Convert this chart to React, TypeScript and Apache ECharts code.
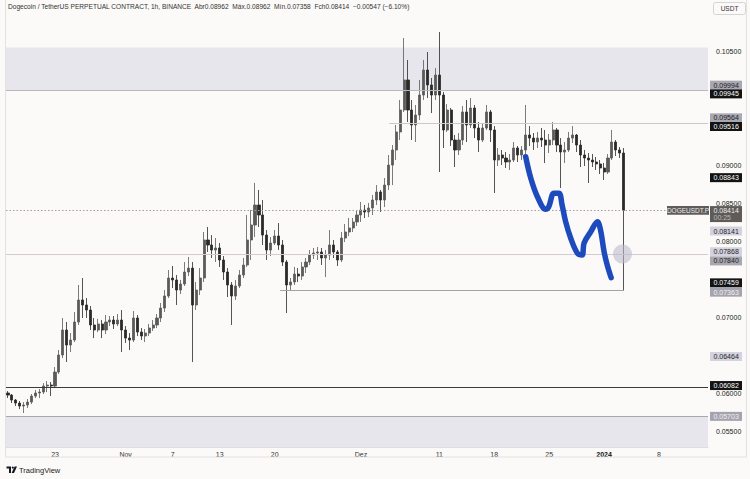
import React, { useEffect, useRef } from "react";
import * as echarts from "echarts";

// ---- time axis: 12h candles from 2023-10-17 00:00 UTC ----
const START_UTC = Date.UTC(2023, 9, 17, 0);
const STEP_HOURS = 12;
const CATEGORY_COUNT = 179;

// x tick labels (date -> label)
const xTickDates = ["2023-10-23", "2023-11-01", "2023-11-07", "2023-11-13", "2023-11-20", "2023-12-01", "2023-12-11", "2023-12-18", "2023-12-25", "2024-01-01", "2024-01-08"];
const xTickTexts = ["23", "Nov", "7", "13", "20", "Dez", "11", "18", "25", "2024", "8"];

// y tick labels that stay visible (others sit under price tags)
const yTickLabels = [0.105, 0.09, 0.085, 0.08, 0.07, 0.06, 0.055];

// ---- DOGE/USDT.P candles (12h aggregation) ----
const opens = [
  0.06010, 0.05983, 0.05918, 0.05878, 0.05839, 0.05852, 0.05891, 0.05970, 0.06010, 0.06023,
  0.06102, 0.06115, 0.06102, 0.06286, 0.06510, 0.06839, 0.06641, 0.06707, 0.06944, 0.07234,
  0.07168, 0.07102, 0.06905, 0.06839, 0.06918, 0.06839, 0.06944, 0.06970, 0.06918, 0.06970,
  0.06839, 0.06733, 0.06707, 0.06997, 0.06812, 0.06760, 0.06799, 0.06865, 0.06905, 0.06997,
  0.07128, 0.07286, 0.07523, 0.07497, 0.07365, 0.07444, 0.07602, 0.07654, 0.07168, 0.07365,
  0.07523, 0.08023, 0.07957, 0.07891, 0.07918, 0.07760, 0.07602, 0.07431, 0.07286, 0.07418,
  0.07562, 0.07694, 0.08023, 0.08220, 0.08483, 0.08352, 0.08088, 0.07891, 0.07983, 0.08075,
  0.07957, 0.07733, 0.07431, 0.07470, 0.07575, 0.07549, 0.07668, 0.07733, 0.07825, 0.07852,
  0.07865, 0.07786, 0.07825, 0.07957, 0.07865, 0.07760, 0.08049, 0.08128, 0.08181, 0.08260,
  0.08352, 0.08417, 0.08391, 0.08444, 0.08549, 0.08654, 0.08549, 0.08746, 0.09009, 0.09207,
  0.09444, 0.09733, 0.10128, 0.09733, 0.09536, 0.09667, 0.09930, 0.10259, 0.10062, 0.09930,
  0.10193, 0.09930, 0.09470, 0.09733, 0.09338, 0.09207, 0.09338, 0.09707, 0.09536, 0.09759,
  0.09496, 0.09338, 0.09496, 0.09707, 0.09470, 0.09075, 0.09141, 0.09101, 0.09049, 0.09075,
  0.09233, 0.09141, 0.09207, 0.09404, 0.09364, 0.09312, 0.09364, 0.09338, 0.09272, 0.09338,
  0.09470, 0.09272, 0.09180, 0.09207, 0.09364, 0.09404, 0.09272, 0.09141, 0.09101, 0.09075,
  0.09049, 0.09023, 0.08970, 0.08917, 0.09101, 0.09312, 0.09207, 0.09167,
];
const closes = [
  0.05983, 0.05918, 0.05878, 0.05839, 0.05852, 0.05891, 0.05970, 0.06010, 0.06023, 0.06102,
  0.06115, 0.06102, 0.06286, 0.06510, 0.06839, 0.06641, 0.06707, 0.06944, 0.07234, 0.07168,
  0.07102, 0.06905, 0.06839, 0.06918, 0.06839, 0.06944, 0.06970, 0.06918, 0.06970, 0.06839,
  0.06733, 0.06707, 0.06997, 0.06812, 0.06760, 0.06799, 0.06865, 0.06905, 0.06997, 0.07128,
  0.07286, 0.07523, 0.07497, 0.07365, 0.07444, 0.07602, 0.07654, 0.07168, 0.07365, 0.07523,
  0.08023, 0.07957, 0.07891, 0.07918, 0.07760, 0.07602, 0.07431, 0.07286, 0.07418, 0.07562,
  0.07694, 0.08023, 0.08220, 0.08483, 0.08352, 0.08088, 0.07891, 0.07983, 0.08075, 0.07957,
  0.07733, 0.07431, 0.07470, 0.07575, 0.07549, 0.07668, 0.07733, 0.07825, 0.07852, 0.07865,
  0.07786, 0.07825, 0.07957, 0.07865, 0.07760, 0.08049, 0.08128, 0.08181, 0.08260, 0.08352,
  0.08417, 0.08391, 0.08444, 0.08549, 0.08654, 0.08549, 0.08746, 0.09009, 0.09207, 0.09444,
  0.09733, 0.10128, 0.09733, 0.09536, 0.09667, 0.09930, 0.10259, 0.10062, 0.09930, 0.10193,
  0.09930, 0.09470, 0.09733, 0.09338, 0.09207, 0.09338, 0.09707, 0.09536, 0.09759, 0.09496,
  0.09338, 0.09496, 0.09707, 0.09470, 0.09075, 0.09141, 0.09101, 0.09049, 0.09075, 0.09233,
  0.09141, 0.09207, 0.09404, 0.09364, 0.09312, 0.09364, 0.09338, 0.09272, 0.09338, 0.09470,
  0.09272, 0.09180, 0.09207, 0.09364, 0.09404, 0.09272, 0.09141, 0.09101, 0.09075, 0.09049,
  0.09023, 0.08970, 0.08917, 0.09101, 0.09312, 0.09207, 0.09167, 0.08414,
];
const highs = [
  0.06036, 0.05997, 0.05931, 0.05905, 0.05891, 0.05931, 0.05997, 0.06049, 0.06063, 0.06141,
  0.06168, 0.06155, 0.06352, 0.06576, 0.06997, 0.06944, 0.06799, 0.07076, 0.07431, 0.07523,
  0.07260, 0.07155, 0.06997, 0.06984, 0.06970, 0.07036, 0.07023, 0.07023, 0.07049, 0.07102,
  0.06891, 0.06799, 0.07089, 0.07036, 0.06865, 0.06852, 0.06918, 0.06970, 0.07049, 0.07194,
  0.07365, 0.07628, 0.07681, 0.07562, 0.07497, 0.07733, 0.07799, 0.07733, 0.07470, 0.07654,
  0.08128, 0.08194, 0.08088, 0.08049, 0.07983, 0.07812, 0.07654, 0.07470, 0.07497, 0.07628,
  0.07786, 0.08352, 0.08417, 0.08773, 0.08681, 0.08549, 0.08154, 0.08062, 0.08154, 0.08246,
  0.08023, 0.07760, 0.07523, 0.07668, 0.07654, 0.07733, 0.07786, 0.07891, 0.07918, 0.07931,
  0.07918, 0.07891, 0.08154, 0.08023, 0.07891, 0.08128, 0.08233, 0.08312, 0.08312, 0.08417,
  0.08523, 0.08483, 0.08510, 0.08615, 0.08746, 0.08681, 0.08838, 0.09141, 0.09272, 0.09536,
  0.09865, 0.10680, 0.10391, 0.09865, 0.09799, 0.10128, 0.10391, 0.10496, 0.10154, 0.10285,
  0.10759, 0.09970, 0.09812, 0.09759, 0.09404, 0.09430, 0.09786, 0.09865, 0.09891, 0.09799,
  0.09575, 0.09549, 0.09799, 0.09733, 0.09522, 0.09233, 0.09207, 0.09180, 0.09154, 0.09312,
  0.09259, 0.09259, 0.09799, 0.09522, 0.09430, 0.09444, 0.09496, 0.09470, 0.09417, 0.09575,
  0.09496, 0.09364, 0.09312, 0.09444, 0.09522, 0.09417, 0.09338, 0.09207, 0.09167, 0.09154,
  0.09115, 0.09075, 0.09036, 0.09154, 0.09470, 0.09338, 0.09246, 0.09233,
];
const lows = [
  0.05944, 0.05878, 0.05839, 0.05799, 0.05747, 0.05812, 0.05865, 0.05944, 0.05944, 0.05997,
  0.06023, 0.05970, 0.06076, 0.06260, 0.06470, 0.06418, 0.06549, 0.06681, 0.06905, 0.06997,
  0.06997, 0.06839, 0.06733, 0.06812, 0.06733, 0.06786, 0.06891, 0.06852, 0.06891, 0.06549,
  0.06668, 0.06576, 0.06681, 0.06760, 0.06707, 0.06681, 0.06760, 0.06826, 0.06865, 0.06944,
  0.07076, 0.07260, 0.07391, 0.07168, 0.07312, 0.07418, 0.07549, 0.06418, 0.07102, 0.07299,
  0.07470, 0.07865, 0.07786, 0.07733, 0.07668, 0.07497, 0.07273, 0.06905, 0.07234, 0.07391,
  0.07523, 0.07668, 0.07760, 0.08062, 0.08194, 0.07957, 0.07760, 0.07812, 0.07957, 0.07891,
  0.07681, 0.07062, 0.07365, 0.07431, 0.07470, 0.07497, 0.07589, 0.07694, 0.07773, 0.07760,
  0.07694, 0.07536, 0.07760, 0.07786, 0.07681, 0.07733, 0.07996, 0.08075, 0.08128, 0.08207,
  0.08260, 0.08312, 0.08325, 0.08352, 0.08483, 0.08391, 0.08457, 0.08681, 0.08746, 0.09075,
  0.09338, 0.09707, 0.09575, 0.09338, 0.09312, 0.09601, 0.09865, 0.09891, 0.09693, 0.09865,
  0.08917, 0.09233, 0.09444, 0.09259, 0.08983, 0.09141, 0.09272, 0.09312, 0.09496, 0.09364,
  0.09180, 0.09312, 0.09470, 0.09312, 0.08641, 0.08996, 0.09009, 0.08970, 0.08944, 0.09049,
  0.09049, 0.09075, 0.09141, 0.09259, 0.09207, 0.09233, 0.09246, 0.09036, 0.09167, 0.09272,
  0.09180, 0.08707, 0.09036, 0.09180, 0.09299, 0.09180, 0.08983, 0.08996, 0.08773, 0.08983,
  0.08944, 0.08891, 0.08812, 0.08891, 0.09075, 0.09128, 0.09101, 0.07358,
];

// ---- hand-drawn blue stroke (x in candle-index units, y in price) ----
const drawingX = [132.0, 133.3, 135.0, 137.1, 137.9, 139.2, 140.5, 141.3, 142.2, 143.5, 145.2, 146.4, 146.9, 148.6, 150.3, 151.1, 152.0, 152.8, 153.8];
const drawingY = [0.09119, 0.08838, 0.08592, 0.08427, 0.08461, 0.08637, 0.08637, 0.08483, 0.08264, 0.08045, 0.07848, 0.07825, 0.07983, 0.08132, 0.08264, 0.08154, 0.07869, 0.07694, 0.07527];
const markerCircle = [156.7, 0.07839];

// ---- horizontal drawings ----
const upperZone = [0.10555, 0.09994];
const lowerZone = [0.05703, 0.053];
const resistanceLine = { from: 97.2, to: CATEGORY_COUNT - 0.5, value: 0.09564 };
const supportLine = { from: 69.4, to: 157, value: 0.07363 };
const midLine = 0.0784;
const baseLine = 0.06082;
const lastPrice = 0.08414;

// ---- right-hand price tags ----
const tagValues = [0.09994, 0.09945, 0.09564, 0.09516, 0.08843, 0.08141, 0.07868, 0.0784, 0.07459, 0.07363, 0.06464, 0.06082, 0.05703];
const tagKinds = ["gray", "black", "gray", "black", "black", "lilac", "lilac", "gray", "black", "grayLight", "lilac", "black", "grayLight"];

const headerText = "Dogecoin / TetherUS PERPETUAL CONTRACT, 1h, BINANCE  Abr0.08962  Máx.0.08962  Mín.0.07358  Fch0.08414  −0.00547 (−6.10%)";

const FONT = "'Liberation Sans', Arial, sans-serif";

function pad(n: number) {
  return n < 10 ? "0" + n : String(n);
}

function buildCategories() {
  const out: string[] = [];
  for (let i = 0; i < CATEGORY_COUNT; i++) {
    const d = new Date(START_UTC + i * STEP_HOURS * 3600 * 1000);
    out.push(`${d.getUTCFullYear()}-${pad(d.getUTCMonth() + 1)}-${pad(d.getUTCDate())} ${pad(d.getUTCHours())}`);
  }
  return out;
}

const tagStyles: Record<string, { fill: string; text: string }> = {
  gray: { fill: "#a9a8b2", text: "#1c1c1c" },
  black: { fill: "#131313", text: "#ffffff" },
  lilac: { fill: "#d3d2de", text: "#262626" },
  grayLight: { fill: "#a4a3ae", text: "#f2f2f2" },
};
const tagNudge = [-5, 0, -5, 0, 0, 0, 0, 7, 0, 2, -2, -2, 0];

export default function App() {
  const ref = useRef<HTMLDivElement>(null);

  useEffect(() => {
    if (!ref.current) return;
    const chart = echarts.init(ref.current, null, { renderer: "svg" });
    const categories = buildCategories();
    const tickMap: Record<string, string> = {};
    xTickDates.forEach((d, i) => (tickMap[d + " 00"] = xTickTexts[i]));

    const candleData = opens.map((o, i) => [o, closes[i], lows[i], highs[i]]);
    const drawing = drawingX.map((x, i) => [x, drawingY[i]]);

    const option: any = {
      animation: false,
      backgroundColor: "#fbfaf8",
      textStyle: { fontFamily: FONT },
      grid: { left: 6, right: 42, top: 0, bottom: 32, containLabel: false },
      xAxis: [
        {
          type: "category",
          data: categories,
          boundaryGap: true,
          axisLine: { show: true, lineStyle: { color: "#dedede" } },
          axisTick: { show: false },
          splitLine: { show: false },
          axisLabel: {
            interval: (_i: number, v: string) => tickMap[v] !== undefined,
            formatter: (v: string) => {
              const t = tickMap[v];
              if (t === undefined) return "";
              return t === "2024" ? "{b|2024}" : t;
            },
            fontSize: 7,
            color: "#333",
            margin: 4,
            fontFamily: FONT,
            rich: { b: { fontWeight: "bold", fontSize: 7, color: "#111", fontFamily: FONT } },
          },
        },
        { type: "value", min: -0.5, max: CATEGORY_COUNT - 0.5, show: false },
      ],
      yAxis: {
        type: "value",
        position: "right",
        min: 0.053,
        max: 0.1118,
        interval: 0.0005,
        axisLine: { show: false },
        axisTick: { show: false },
        splitLine: { show: false },
        axisLabel: {
          fontSize: 7,
          color: "#222",
          margin: 8,
          fontFamily: FONT,
          formatter: (v: number) => {
            const hit = yTickLabels.find((t) => Math.abs(t - v) < 1e-7);
            return hit !== undefined ? hit.toFixed(5) : "";
          },
        },
      },
      series: [
        {
          type: "line",
          xAxisIndex: 1,
          yAxisIndex: 0,
          data: [],
          z: 1,
          silent: true,
          markArea: {
            silent: true,
            precision: 6,
            itemStyle: { color: "#e7e6ed" },
            data: [
              [{ yAxis: upperZone[0] }, { yAxis: upperZone[1] }],
              [{ yAxis: lowerZone[0] }, { yAxis: lowerZone[1] }],
            ],
          },
          markLine: {
            silent: true,
            precision: 6,
            symbol: "none",
            label: { show: false },
            data: [
              { yAxis: upperZone[1], lineStyle: { color: "#b9b9bd", width: 1, type: "solid" } },
              { yAxis: lowerZone[0], lineStyle: { color: "#a9a9ad", width: 1, type: "solid" } },
              { yAxis: midLine, lineStyle: { color: "#d6c9d1", width: 1, type: "solid" } },
              { yAxis: baseLine, lineStyle: { color: "#3a3a3a", width: 1, type: "solid" } },
              { yAxis: lastPrice, lineStyle: { color: "#a99aa0", width: 1, type: [1.5, 2] } },
              [
                { coord: [resistanceLine.from, resistanceLine.value], lineStyle: { color: "#c9c9cc", width: 1, type: "solid" } },
                { coord: [resistanceLine.to, resistanceLine.value] },
              ],
              [
                { coord: [supportLine.from, supportLine.value], lineStyle: { color: "#a3a3a6", width: 1, type: "solid" } },
                { coord: [supportLine.to, supportLine.value] },
              ],
            ],
          },
        },
        {
          type: "candlestick",
          xAxisIndex: 0,
          yAxisIndex: 0,
          data: candleData,
          barWidth: 2.6,
          z: 3,
          itemStyle: {
            color: "#5a5a5a",
            color0: "#2a2a2a",
            borderColor: "#5a5a5a",
            borderColor0: "#2a2a2a",
            borderWidth: 0.8,
          },
        },
        {
          type: "line",
          xAxisIndex: 1,
          yAxisIndex: 0,
          data: drawing,
          smooth: 0.35,
          symbol: "none",
          z: 6,
          lineStyle: { color: "#1d4bbd", width: 5.5, cap: "round", join: "round" },
        },
        {
          type: "scatter",
          xAxisIndex: 1,
          yAxisIndex: 0,
          data: [markerCircle],
          symbolSize: 19,
          z: 7,
          itemStyle: { color: "rgba(188,186,204,0.72)" },
        },
      ],
    };
    chart.setOption(option);

    const yOf = (v: number) => chart.convertToPixel({ yAxisIndex: 0 }, v) as number;
    const graphics: any[] = [];

    // header
    graphics.push({
      type: "text",
      x: 8,
      y: 6,
      z: 100,
      style: { text: headerText, fontSize: 6.6, fill: "#333", fontFamily: FONT, verticalAlign: "middle" },
    });
    // panel border
    graphics.push({
      type: "rect",
      z: 99,
      shape: { x: 5.5, y: -1, width: 741, height: 458 },
      style: { fill: "none", stroke: "#e2e2e2", lineWidth: 1 },
    });
    // USDT box
    graphics.push({
      type: "rect",
      z: 100,
      shape: { x: 713.5, y: 2.5, width: 32, height: 12, r: 2 },
      style: { fill: "#fbfaf8", stroke: "#d4d4d4", lineWidth: 1 },
    });
    graphics.push({
      type: "text",
      z: 101,
      x: 729.5,
      y: 8.5,
      style: { text: "USDT", fontSize: 6.5, fill: "#333", fontFamily: FONT, align: "center", verticalAlign: "middle" },
    });

    // price tags
    tagValues.forEach((v, i) => {
      const cy = yOf(v) + tagNudge[i];
      const st = tagStyles[tagKinds[i]];
      graphics.push({
        type: "rect",
        z: 100,
        shape: { x: 710, y: cy - 4.5, width: 32, height: 9 },
        style: { fill: st.fill },
      });
      graphics.push({
        type: "text",
        z: 101,
        x: 713.5,
        y: cy,
        style: { text: v.toFixed(5), fontSize: 7, fill: st.text, fontFamily: FONT, verticalAlign: "middle" },
      });
    });

    // last price tag with symbol and countdown
    const lpy = yOf(lastPrice);
    graphics.push({
      type: "rect",
      z: 100,
      shape: { x: 667, y: lpy - 4.2, width: 42, height: 8.6 },
      style: { fill: "#5f5b58" },
    });
    graphics.push({
      type: "text",
      z: 101,
      x: 688,
      y: lpy,
      style: { text: "DOGEUSDT.P", fontSize: 6.5, fill: "#e8e8e8", fontFamily: FONT, align: "center", verticalAlign: "middle" },
    });
    graphics.push({
      type: "rect",
      z: 100,
      shape: { x: 710, y: lpy - 4.2, width: 32, height: 16 },
      style: { fill: "#5f5b58" },
    });
    graphics.push({
      type: "text",
      z: 101,
      x: 713.5,
      y: lpy,
      style: { text: lastPrice.toFixed(5), fontSize: 7, fill: "#eeeeee", fontFamily: FONT, verticalAlign: "middle" },
    });
    graphics.push({
      type: "text",
      z: 101,
      x: 713.5,
      y: lpy + 7.5,
      style: { text: "00:25", fontSize: 7, fill: "#bdb9b6", fontFamily: FONT, verticalAlign: "middle" },
    });

    // TradingView logo
    graphics.push({
      type: "group",
      z: 100,
      children: [
        {
          type: "polygon",
          z: 100,
          shape: { points: [[6.5, 466.5], [11, 466.5], [11, 473], [9, 473], [9, 468.6], [6.5, 468.6]] },
          style: { fill: "#131722" },
        },
        { type: "circle", z: 100, shape: { cx: 12.8, cy: 467.6, r: 1.1 }, style: { fill: "#131722" } },
        {
          type: "polygon",
          z: 100,
          shape: { points: [[14.6, 466.5], [17, 466.5], [14, 473], [11.6, 473]] },
          style: { fill: "#131722" },
        },
      ],
    });
    graphics.push({
      type: "text",
      z: 100,
      x: 19,
      y: 470,
      style: { text: "TradingView", fontSize: 7.5, fill: "#222", fontFamily: FONT, verticalAlign: "middle" },
    });

    chart.setOption({ graphic: graphics });

    return () => chart.dispose();
  }, []);

  return (
    <div
      ref={ref}
      style={{ position: "fixed", left: 0, top: 0, width: 750, height: 479 }}
    />
  );
}
